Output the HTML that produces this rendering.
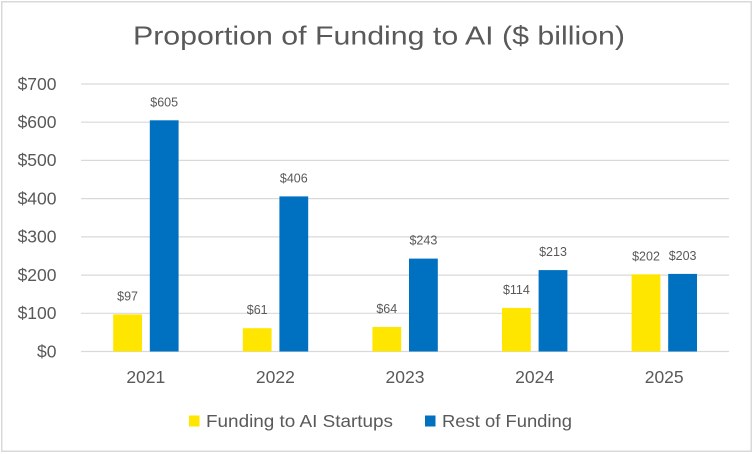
<!DOCTYPE html>
<html>
<head>
<meta charset="utf-8">
<style>
html,body{margin:0;padding:0;background:#fff;}
svg{display:block;}
text{font-family:"Liberation Sans",Arial,sans-serif;fill:#595959;}
</style>
</head>
<body>
<svg width="754" height="454" viewBox="0 0 754 454" xmlns="http://www.w3.org/2000/svg">
<rect x="0" y="0" width="754" height="454" fill="#fff"/>
<rect x="1.75" y="1.75" width="749.5" height="449.5" fill="none" stroke="#d9d9d9" stroke-width="1.5"/>
<text x="379" y="44.5" font-size="26" text-anchor="middle" textLength="492" lengthAdjust="spacingAndGlyphs">Proportion of Funding to AI ($ billion)</text>
<g stroke="#d9d9d9" stroke-width="1.2">
<line x1="81" x2="729" y1="84" y2="84"/>
<line x1="81" x2="729" y1="122.2" y2="122.2"/>
<line x1="81" x2="729" y1="160.4" y2="160.4"/>
<line x1="81" x2="729" y1="198.6" y2="198.6"/>
<line x1="81" x2="729" y1="236.9" y2="236.9"/>
<line x1="81" x2="729" y1="275.1" y2="275.1"/>
<line x1="81" x2="729" y1="313.3" y2="313.3"/>
<line x1="81" x2="729" y1="351.5" y2="351.5"/>
</g>
<g font-size="17.5" text-anchor="end">
<text x="56.5" y="89.8">$700</text>
<text x="56.5" y="128">$600</text>
<text x="56.5" y="166.2">$500</text>
<text x="56.5" y="204.4">$400</text>
<text x="56.5" y="242.7">$300</text>
<text x="56.5" y="280.9">$200</text>
<text x="56.5" y="319.1">$100</text>
<text x="56.5" y="357.3">$0</text>
</g>
<!-- bars -->
<g fill="#FFE600">
<rect x="113.2" y="314.4" width="28.8" height="37.1"/>
<rect x="242.8" y="328.2" width="28.8" height="23.3"/>
<rect x="372.4" y="327.0" width="28.8" height="24.5"/>
<rect x="502.0" y="307.9" width="28.8" height="43.6"/>
<rect x="631.6" y="274.3" width="28.8" height="77.2"/>
</g>
<g fill="#0070C0">
<rect x="149.8" y="120.3" width="28.8" height="231.2"/>
<rect x="279.4" y="196.4" width="28.8" height="155.1"/>
<rect x="409.0" y="258.6" width="28.8" height="92.9"/>
<rect x="538.6" y="270.1" width="28.8" height="81.4"/>
<rect x="668.2" y="273.9" width="28.8" height="77.6"/>
</g>
<g font-size="12.5" text-anchor="middle">
<text x="127.6" y="300.4">$97</text>
<text x="164.2" y="106.3">$605</text>
<text x="257.2" y="314.2">$61</text>
<text x="293.8" y="182.4">$406</text>
<text x="386.8" y="313">$64</text>
<text x="423.4" y="244.6">$243</text>
<text x="516.4" y="293.9">$114</text>
<text x="553" y="256.1">$213</text>
<text x="646" y="260.3">$202</text>
<text x="682.6" y="259.9">$203</text>
</g>
<g font-size="17.5" text-anchor="middle">
<text x="145.8" y="383">2021</text>
<text x="275.4" y="383">2022</text>
<text x="405" y="383">2023</text>
<text x="534.6" y="383">2024</text>
<text x="664.2" y="383">2025</text>
</g>
<rect x="189" y="415.5" width="10.5" height="11" fill="#FFE600"/>
<text x="206" y="427" font-size="17.5" textLength="187" lengthAdjust="spacingAndGlyphs">Funding to AI Startups</text>
<rect x="425" y="415.5" width="10.5" height="11" fill="#0070C0"/>
<text x="442" y="427" font-size="17.5" textLength="130" lengthAdjust="spacingAndGlyphs">Rest of Funding</text>
</svg>
</body>
</html>
